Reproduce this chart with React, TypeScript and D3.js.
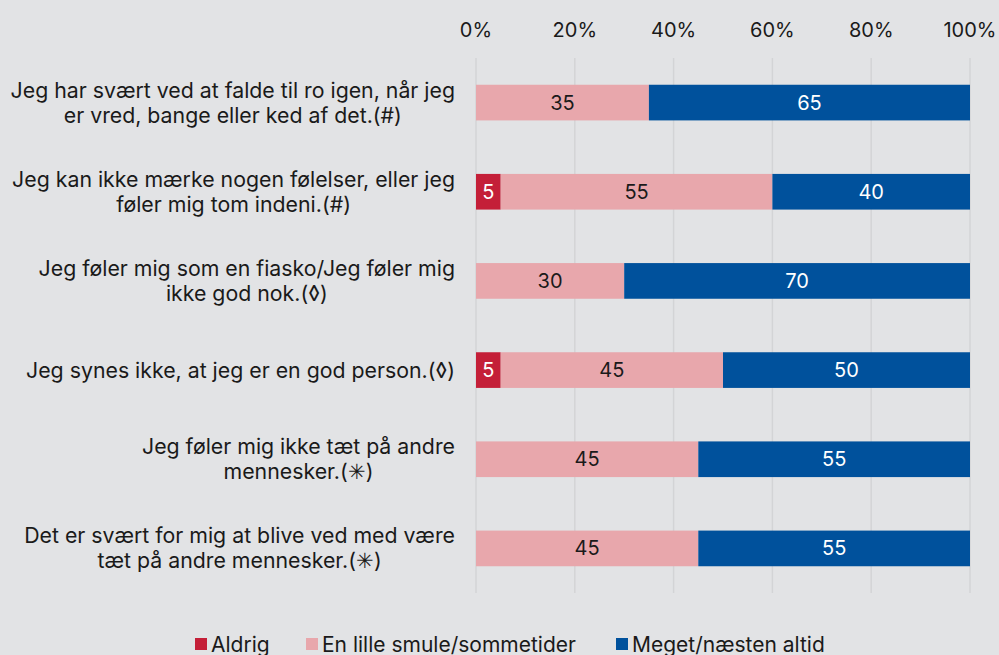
import React, { useMemo } from "react";
import * as d3 from "d3";

const categories: string[][] = [
  ["Jeg har svært ved at falde til ro igen, når jeg", "er vred, bange eller ked af det.(#)"],
  ["Jeg kan ikke mærke nogen følelser, eller jeg", "føler mig tom indeni.(#)"],
  ["Jeg føler mig som en fiasko/Jeg føler mig", "ikke god nok.(◊)"],
  ["Jeg synes ikke, at jeg er en god person.(◊)"],
  ["Jeg føler mig ikke tæt på andre", "mennesker.(✳)"],
  ["Det er svært for mig at blive ved med være", "tæt på andre mennesker.(✳)"],
];
const seriesNames = ["Aldrig", "En lille smule/sommetider", "Meget/næsten altid"];
const aldrig = [0, 5, 0, 5, 0, 0];
const lidt = [35, 55, 30, 45, 45, 45];
const meget = [65, 40, 70, 50, 55, 55];
const ticks = [0, 20, 40, 60, 80, 100];

const W = 999;
const H = 655;
const colors = ["#c41f38", "#e8a7ac", "#00519c"];
const textColors = ["#ffffff", "#1a1a1a", "#ffffff"];
const FONT = "Inter, 'Noto Sans', sans-serif";
const LABEL_SIZE = 21.3;

export default function App() {
  const x = d3.scaleLinear().domain([0, 100]).range([476, 970]);
  const y = d3
    .scaleBand<number>()
    .domain(categories.map((_, i) => i))
    .range([58, 593])
    .paddingInner(0.6)
    .paddingOuter(0.3);

  const series = [aldrig, lidt, meget];
  const stackData = categories.map((_, i) => ({ i, a: aldrig[i], b: lidt[i], c: meget[i] }));
  const stacked = d3.stack<any>().keys(["a", "b", "c"])(stackData);

  const widths = useMemo(() => {
    const c = document.createElement("canvas");
    const ctx = c.getContext("2d")!;
    ctx.font = `${LABEL_SIZE}px ${FONT}`;
    return categories.map((lines) => Math.max(...lines.map((l) => ctx.measureText(l).width)));
  }, []);

  const legendItems = [
    { x: 195, label: seriesNames[0] },
    { x: 306, label: seriesNames[1] },
    { x: 616, label: seriesNames[2] },
  ];

  return (
    <div style={{ position: "absolute", left: 0, top: 0 }}>
      <svg width={W} height={H} style={{ display: "block", fontFamily: FONT }}>
        <rect x={0} y={0} width={W} height={H} fill="#e2e3e5" />
        {ticks.map((t) => (
          <g key={t}>
            <line x1={x(t)} x2={x(t)} y1={58} y2={593} stroke="#d3d4d6" strokeWidth={1.5} />
            <text x={x(t)} y={37} textAnchor="middle" fontSize={20} fill="#1a1a1a">
              {t}%
            </text>
          </g>
        ))}
        {stacked.map((layer, si) =>
          layer.map((d, i) => {
            const v = series[si][i];
            if (!v) return null;
            const x0 = x(d[0]);
            const x1 = x(d[1]);
            const yy = y(i)!;
            const bh = y.bandwidth();
            return (
              <g key={`${si}-${i}`}>
                <rect x={x0} y={yy} width={x1 - x0} height={bh} fill={colors[si]} />
                <text
                  x={(x0 + x1) / 2}
                  y={yy + bh / 2 + 7}
                  textAnchor="middle"
                  fontSize={20}
                  fill={textColors[si]}
                >
                  {v}
                </text>
              </g>
            );
          })
        )}
        {categories.map((lines, i) => {
          const cy = y(i)! + y.bandwidth() / 2;
          const cx = 455 - widths[i] / 2;
          const lh = 25;
          const start = cy - ((lines.length - 1) * lh) / 2;
          return (
            <text key={i} textAnchor="middle" fontSize={LABEL_SIZE} fill="#1a1a1a">
              {lines.map((l, j) => (
                <tspan key={j} x={cx} y={start + j * lh + 7.5}>
                  {l}
                </tspan>
              ))}
            </text>
          );
        })}
        {legendItems.map((it, i) => (
          <g key={i}>
            <rect x={it.x} y={638} width={12} height={12} fill={colors[i]} />
            <text x={it.x + 16} y={652} fontSize={21} fill="#1a1a1a">
              {it.label}
            </text>
          </g>
        ))}
      </svg>
    </div>
  );
}
